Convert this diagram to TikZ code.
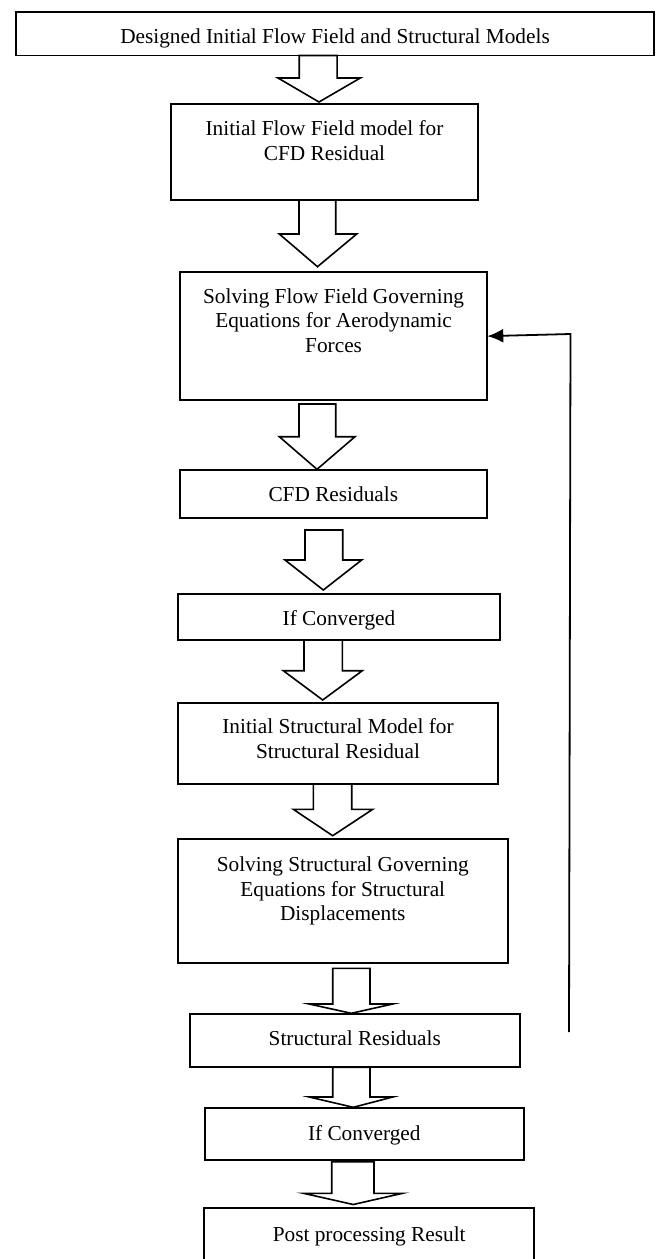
\documentclass[tikz,border=0pt]{standalone}
\usepackage{fontspec}
\setmainfont{Liberation Serif}
\usetikzlibrary{arrows.meta}
\newcommand\blockarr[8]{\draw[barrow] (#1,#3) -- (#1,#4) -- (#5,#4) -- (#7,#8) -- (#6,#4) -- (#2,#4) -- (#2,#3) -- cycle;}
\begin{document}
\begin{tikzpicture}[x=1pt,y=-1pt,
  box/.style={draw, line width=1.7pt, inner sep=0pt, outer sep=0pt, fill=white},
  lbl/.style={anchor=base, align=center, inner sep=0pt, font=\fontsize{21.3}{24.5}\selectfont},
  barrow/.style={draw, line width=1.6pt, fill=white, line join=miter},
  fb/.style={line width=1.8pt}]
\useasboundingbox (0,0) rectangle (658,1259);
\clip (0,0) rectangle (658,1259);
% boxes
\node[box, minimum width=638pt, minimum height=43.5pt] (B1) at (335,33.75) {};
\node[box, minimum width=307.6pt, minimum height=96pt] (B2) at (324.5,152) {};
\node[box, minimum width=307.3pt, minimum height=127.7pt] (B3) at (333.65,336.15) {};
\node[box, minimum width=307.3pt, minimum height=48.3pt] (B4) at (333.65,494.15) {};
\node[box, minimum width=322.3pt, minimum height=45.7pt] (B5) at (338.85,617.15) {};
\node[box, minimum width=320.6pt, minimum height=80.7pt] (B6) at (338,743.65) {};
\node[box, minimum width=330pt, minimum height=124pt] (B7) at (343.3,901.3) {};
\node[box, minimum width=330pt, minimum height=53.3pt] (B8) at (355,1040.65) {};
\node[box, minimum width=319.3pt, minimum height=51.7pt] (B9) at (364.65,1134.15) {};
\node[box, minimum width=329.7pt, minimum height=66.7pt] (B10) at (369.15,1241.65) {};
% texts (anchor=base is the baseline of the last line)
\node[lbl] (T1) at (335,43.3) {Designed Initial Flow Field and Structural Models};
\node[lbl] (T2) at (324.5,160) {Initial Flow Field model for\\CFD Residual};
\node[lbl] (T3) at (333.6,352.3) {Solving Flow Field Governing\\Equations for Aerodynamic\\Forces};
\node[lbl] (T4) at (333.3,501) {CFD Residuals};
\node[lbl] (T5) at (339,625) {If Converged};
\node[lbl] (T6) at (338,758.3) {Initial Structural Model for\\Structural Residual};
\node[lbl] (T7) at (342.8,920.7) {Solving Structural Governing\\Equations for Structural\\Displacements};
\node[lbl] (T8) at (354.8,1045) {Structural Residuals};
\node[lbl] (T9) at (364.3,1140) {If Converged};
\node[lbl] (T10) at (369.2,1241.5) {Post processing Result};
% block arrows
\blockarr{299.2}{337.1}{55.5}{78}{278}{360.3}{319}{102}
\blockarr{299}{335.7}{200}{234}{279.3}{356.7}{317.5}{266.7}
\blockarr{299}{335.7}{404}{436.7}{279.3}{355}{317}{469.3}
\blockarr{305}{342.7}{530}{560}{285}{361.7}{323.3}{590}
\blockarr{304}{342.3}{640}{670.7}{283.3}{362.3}{322.7}{700}
\blockarr{313.3}{351.7}{784}{809.3}{293.3}{372.7}{332.7}{835.7}
\blockarr{332.7}{370}{968.3}{1004}{309.3}{392.7}{351.3}{1013.3}
\blockarr{332.7}{370}{1067.3}{1097}{309.3}{392.7}{353.3}{1107.3}
\blockarr{331.7}{374}{1161.7}{1193.3}{303.5}{402.5}{353.3}{1204.5}
% feedback loop
\coordinate (fbBot) at (569,1032);
\coordinate (fbTop) at (570.5,334);
\draw[fb, -{Latex[length=16pt,width=14pt]}] (fbBot) -- (fbTop) -- (B3.east);
\end{tikzpicture}
\end{document}
